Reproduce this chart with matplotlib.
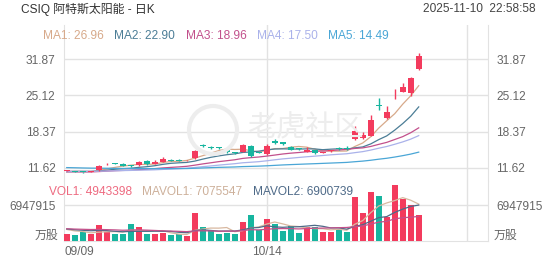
import matplotlib

matplotlib.use("Agg")
import matplotlib.pyplot as plt
import numpy as np
import pandas as pd
from matplotlib.patches import Ellipse
from matplotlib.transforms import blended_transform_factory

plt.rcParams["font.family"] = ["Liberation Sans", "Noto Sans CJK SC", "DejaVu Sans"]

# daily bars 2025-09-09 .. 2025-11-10
opens = [11.02, 10.95, 10.85, 10.80, 11.20, 12.25, 12.40, 12.40, 12.00, 12.10,
         12.90, 12.40, 12.70, 13.10, 13.10, 13.00, 13.40, 15.70, 15.45, 15.40,
         14.95, 14.45, 14.60, 15.75, 14.45, 14.10, 16.60, 16.40, 15.50, 15.15,
         14.60, 14.85, 14.40, 14.70, 15.15, 15.15, 16.90, 17.20, 17.60, 23.30,
         20.90, 24.95, 25.85, 25.50, 30.10]
highs = [11.20, 11.00, 10.90, 11.00, 12.10, 12.55, 12.55, 12.45, 12.10, 12.80,
         13.10, 13.00, 13.60, 13.20, 13.20, 13.15, 15.00, 16.10, 15.60, 15.50,
         15.00, 14.60, 16.10, 15.90, 14.60, 16.10, 16.90, 16.50, 15.60, 15.30,
         15.40, 14.90, 14.60, 14.90, 15.50, 15.60, 19.50, 18.20, 21.40, 24.60,
         23.20, 26.30, 27.40, 28.50, 33.00]
lows = [10.95, 10.80, 10.70, 10.75, 11.10, 12.10, 12.25, 11.90, 11.75, 12.00,
        12.20, 12.30, 12.60, 12.80, 12.85, 12.90, 13.30, 15.40, 15.15, 15.20,
        14.45, 14.20, 14.50, 13.60, 14.30, 14.00, 16.00, 15.90, 14.90, 15.00,
        14.50, 14.20, 14.30, 14.60, 15.00, 15.00, 16.80, 17.00, 17.50, 22.40,
        20.80, 24.40, 25.80, 25.05, 29.90]
closes = [11.08, 10.88, 10.78, 10.95, 12.00, 12.30, 12.35, 11.95, 11.90, 12.70,
          12.30, 12.70, 13.30, 12.90, 12.95, 13.05, 14.80, 15.65, 15.25, 15.35,
          14.50, 14.40, 15.90, 13.80, 14.40, 15.65, 16.20, 16.00, 15.00, 15.10,
          15.00, 14.30, 14.45, 14.75, 15.10, 15.10, 18.50, 17.75, 20.60, 23.15,
          21.95, 25.10, 26.65, 28.45, 32.55]
volumes = [1350000, 1100000, 1740000, 1290000, 3020000, 1740000, 1290000, 1290000,
           3280000, 2640000, 1290000, 1350000, 1480000, 1160000, 1350000, 900000,
           5340000, 2770000, 2120000, 1290000, 1480000, 1290000, 3730000, 4950000,
           2120000, 4250000, 3280000, 1930000, 2900000, 1610000, 2770000, 2770000,
           1800000, 1800000, 2250000, 1740000, 8550000, 5340000, 9460000, 8680000,
           4690000, 10860000, 8170000, 6950000, 4943398]

# closes/volumes before the window, only used to seed the moving averages
prior_closes = [12.8, 13.0, 12.7, 12.9, 13.2, 13.5, 13.1, 12.8, 12.6, 12.9,
                13.3, 13.0, 12.7, 12.5, 12.4, 12.2, 12.0, 11.8, 12.1, 12.4,
                12.0, 11.7, 11.5, 11.6, 11.9, 11.4, 11.2, 11.3, 11.6, 11.4,
                11.1, 10.9, 11.2, 11.5, 11.3, 11.0, 10.8, 11.0, 11.3, 11.6,
                11.4, 11.1, 10.9, 10.7, 10.8, 10.6, 10.9, 11.2, 10.8, 10.5,
                10.4, 10.7, 10.9, 11.1, 10.8, 10.6, 10.9, 11.1, 11.0]
prior_volumes = [2300000, 2600000, 2100000, 2900000, 2400000, 2200000, 2700000,
                 2500000, 2000000, 2300000, 2600000, 2800000, 2200000, 2400000,
                 2100000, 2500000, 2300000, 2600000, 2400000]

ma_periods = [5, 10, 20, 30, 60]
ma_labels = ["MA1: 26.96", "MA2: 22.90", "MA3: 18.96", "MA4: 17.50", "MA5: 14.49"]
vol_ma_periods = [5, 10, 20]
vol_labels = ["VOL1: 4943398", "MAVOL1: 7075547", "MAVOL2: 6900739"]

price_ticks = [11.62, 18.37, 25.12, 31.87]
price_tick_labels = ["11.62", "18.37", "25.12", "31.87"]
vol_ticks = [6947915]
vol_tick_labels = ["6947915"]
tick_dates = ["09/09", "10/14"]

title = "CSIQ 阿特斯太阳能 - 日K"
timestamp = "2025-11-10  22:58:58"

UP = "#f33b5d"
DOWN = "#17b59f"
MA_COLORS = ["#d7a98a", "#4b7d96", "#c2508c", "#aab2ea", "#4aa6d6"]
VOL_MA_COLORS = ["#d8b8a0", "#4e6a88", "#c4508a"]
GRID = "#e2e2e2"
TXT = "#666666"

W, H = 552, 265
fig = plt.figure(figsize=(W / 100, H / 100), dpi=100)


def px_axes(x0, y0, x1, y1):
    return fig.add_axes([x0 / W, 1 - y1 / H, (x1 - x0) / W, (y1 - y0) / H])


ax = px_axes(64, 25, 488, 181)
axv = px_axes(64, 181, 488, 241)

n = len(closes)
x = np.arange(n)
dates = pd.bdate_range("2025-09-09", "2025-11-10").strftime("%m/%d")
o, h, l, c = map(np.array, (opens, highs, lows, closes))
up = c >= o
colors = np.where(up, UP, DOWN)

# candles
ax.vlines(x, l, h, colors=colors, lw=1, zorder=3)
body = np.maximum(np.abs(c - o), 0.15)
ax.bar(x, body, bottom=np.minimum(o, c), width=0.72, color=colors, zorder=4)

closes_all = pd.Series(prior_closes + closes)
for p, col in zip(ma_periods, MA_COLORS):
    ma = closes_all.rolling(p).mean().to_numpy()[-n:]
    ax.plot(x, ma, color=col, lw=0.9, zorder=2)

axv.bar(x, volumes, width=0.72, color=colors, zorder=3)
vol_all = pd.Series(prior_volumes + volumes)
for p, col in zip(vol_ma_periods, VOL_MA_COLORS):
    ma = vol_all.rolling(p).mean().to_numpy()[-n:]
    axv.plot(x, ma, color=col, lw=0.9, zorder=4)

ax.set_ylim(9.14, 38.28)
axv.set_ylim(0, 11580000)
for a in (ax, axv):
    a.set_xlim(-0.34, 52.66)
    a.set_xticks([])
    for s in a.spines.values():
        s.set_visible(False)
    for s in ("left", "right"):
        a.spines[s].set_visible(True)
        a.spines[s].set_color(GRID)
    for xv in (25, 50):
        a.axvline(xv, color=GRID, lw=1, zorder=0)
    a.tick_params(axis="y", length=0, labelsize=8.6, labelcolor=TXT, pad=6,
                  left=True, right=True, labelleft=True, labelright=True)
axv.spines["bottom"].set_visible(True)
axv.spines["bottom"].set_color(GRID)

ax.set_yticks(price_ticks, price_tick_labels)
axv.set_yticks(vol_ticks, vol_tick_labels)
for t in price_ticks:
    ax.axhline(t, color=GRID, lw=1, zorder=0)
for t in vol_ticks:
    axv.axhline(t, color=GRID, lw=1, zorder=0)

# unit label under the volume scale
fig.text(58 / W, 1 - 236 / H, "万股", ha="right", va="center", fontsize=8.6, color=TXT)
fig.text(494 / W, 1 - 236 / H, "万股", ha="left", va="center", fontsize=8.6, color=TXT)

# date labels
tr = blended_transform_factory(axv.transData, fig.transFigure)
for d in tick_dates:
    i = list(dates).index(d)
    ha = "left" if i == 0 else "center"
    xi = -0.25 if i == 0 else i
    axv.text(xi, 1 - 252 / H, d, transform=tr, ha=ha, va="center",
             fontsize=8.6, color=TXT)

# header
fig.text(21 / W, 1 - 9 / H, title, ha="left", va="center", fontsize=8.6, color="#333333")
fig.text(536 / W, 1 - 9 / H, timestamp, ha="right", va="center", fontsize=8.6, color="#444444")

ma_x = [43, 114, 186, 257, 328]
for xp, lab, col in zip(ma_x, ma_labels, MA_COLORS):
    fig.text(xp / W, 1 - 36 / H, lab, ha="left", va="center", fontsize=8.6, color=col)

vol_x = [49, 142, 253]
for xp, lab, col in zip(vol_x, vol_labels, ["#ee6a80", "#cdb09a", "#4e6a88"]):
    fig.text(xp / W, 1 - 192 / H, lab, ha="left", va="center", fontsize=8.6, color=col)

# watermark
fig.text(305 / W, 1 - 128 / H, "老虎社区", ha="center", va="center", fontsize=21,
         color="#ededed", zorder=0, fontstyle="italic")
fig.patches.append(Ellipse((213 / W, 1 - 130 / H), 48 / W, 48 / H, transform=fig.transFigure,
                           fill=False, ec="#ededed", lw=3, zorder=0))

fig.savefig("out.png", dpi=100)
